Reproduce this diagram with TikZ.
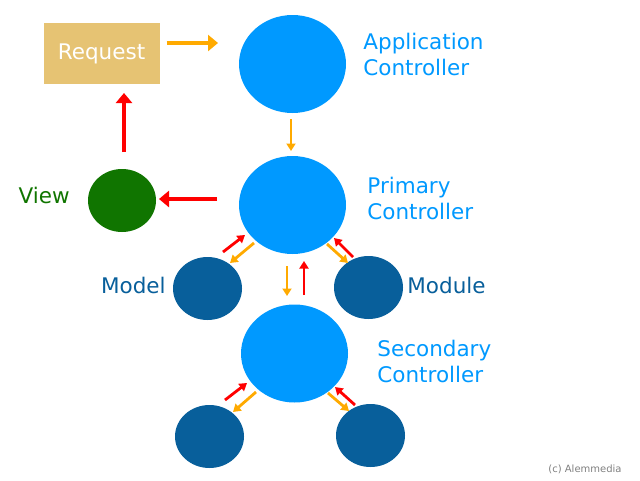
\documentclass[tikz,border=0pt]{standalone}
\usepackage{fontspec}
\setmainfont{DejaVu Sans}
\usetikzlibrary{positioning, shapes.geometric, arrows.meta, calc}
\definecolor{ctrlblue}{HTML}{0099FF}
\definecolor{leafblue}{HTML}{085F9B}
\definecolor{viewgreen}{HTML}{107500}
\definecolor{reqtan}{HTML}{E6C373}
\definecolor{callorange}{HTML}{FFAA00}
\definecolor{backred}{HTML}{FF0000}
\tikzset{
    ctrl/.style={
        ellipse, fill = ctrlblue,
        minimum width = 107pt,
        minimum height = 98pt,
        inner sep = 0
    },
    leaf/.style={
        ellipse, fill = leafblue,
        minimum width = 69pt,
        minimum height = 63pt,
        inner sep = 0
    },
    lbl/.style = {inner sep = 0, align = left, font = \fontsize{21.5}{26}\selectfont},
    bigarrow/.style = {line width = 4.5pt, -{Triangle[length=10pt, width=16pt]}},
    smallarrow/.style = {line width = 2.8pt, -{Triangle[length=7.5pt, width=9pt]}}
}
\begin{document}
\begin{tikzpicture}[x=1pt, y=-1pt]

    \useasboundingbox (0,0) rectangle (640,480);

    % Request
    \node[fill = reqtan, minimum width = 116pt, minimum height = 61pt,
        text = white, font = \fontsize{21.5}{26}\selectfont] (request) at (101.5,53.5) {Request};

    % Controllers
    \node[ctrl] (app) at (292.5,64) {};
    \node[ctrl] (primary) at (292.5,205) {};
    \node[ctrl] (secondary) at (294.5,353.5) {};
    \node[lbl, text = ctrlblue, right = 17pt of app, yshift = 10pt] (apptag) {Application\\Controller};
    \node[lbl, text = ctrlblue, right = 21pt of primary, yshift = 7pt] (primarytag) {Primary\\Controller};
    \node[lbl, text = ctrlblue, right = 29pt of secondary, yshift = -8pt] (secondarytag) {Secondary\\Controller};

    % View
    \node[ellipse, fill = viewgreen, minimum width = 68pt, minimum height = 63pt, inner sep = 0] (view) at (122,200.5) {};
    \node[lbl, text = viewgreen, left = 18pt of view, yshift = 5.5pt] (viewtag) {View};

    % Model, Module
    \node[leaf] (model) at (207.5,288.5) {};
    \node[leaf] (module) at (368.5,287.5) {};
    \node[leaf] (subleft) at (209.5,436.5) {};
    \node[leaf] (subright) at (370.5,435.5) {};
    \node[lbl, text = leafblue, left = 7pt of model, yshift = 3.5pt] (modeltag) {Model};
    \node[lbl, text = leafblue, right = 4pt of module, yshift = 1.7pt] (moduletag) {Module};

    % Big arrows
    \draw[bigarrow, callorange] ($(request)+(65,-10.5)$) -- ($(app)+(-74.5,-21)$);
    \draw[bigarrow, backred] ($(view)+(2,-48.5)$) -- ($(request)+(22.5,39.5)$);
    \draw[bigarrow, backred] ($(primary)+(-75.5,-6)$) -- ($(view)+(37,-1.5)$);

    % Small arrows
    \draw[smallarrow, callorange, line width = 2.3pt] ($(app)+(-1.5,55)$) -- ($(primary)+(-1.5,-54)$);
    \draw[smallarrow, backred] ($(model)+(15.5,-36.5)$) -- ($(primary)+(-47.5,30)$);
    \draw[smallarrow, callorange] ($(primary)+(-38.5,38)$) -- ($(model)+(22.5,-25.5)$);
    \draw[smallarrow, callorange] ($(primary)+(-5.5,61)$) -- ($(secondary)+(-7.5,-57.5)$);
    \draw[smallarrow, backred] ($(secondary)+(9.5,-58.5)$) -- ($(primary)+(11.5,56)$);
    \draw[smallarrow, callorange] ($(primary)+(34.5,39)$) -- ($(module)+(-20.5,-24.5)$);
    \draw[smallarrow, backred] ($(module)+(-15.5,-30.5)$) -- ($(primary)+(41.5,33)$);
    \draw[smallarrow, backred] ($(subleft)+(15.5,-36.5)$) -- ($(secondary)+(-47.5,29.5)$);
    \draw[smallarrow, callorange] ($(secondary)+(-38.5,38.5)$) -- ($(subleft)+(23.5,-24.5)$);
    \draw[smallarrow, callorange] ($(secondary)+(33.5,39.5)$) -- ($(subright)+(-21.5,-24.5)$);
    \draw[smallarrow, backred] ($(subright)+(-15.5,-30.5)$) -- ($(secondary)+(40.5,33.5)$);

    \node[text = gray, font = \fontsize{10}{12}\selectfont] (credit) at (585,469) {(c) Alemmedia};

\end{tikzpicture}
\end{document}
